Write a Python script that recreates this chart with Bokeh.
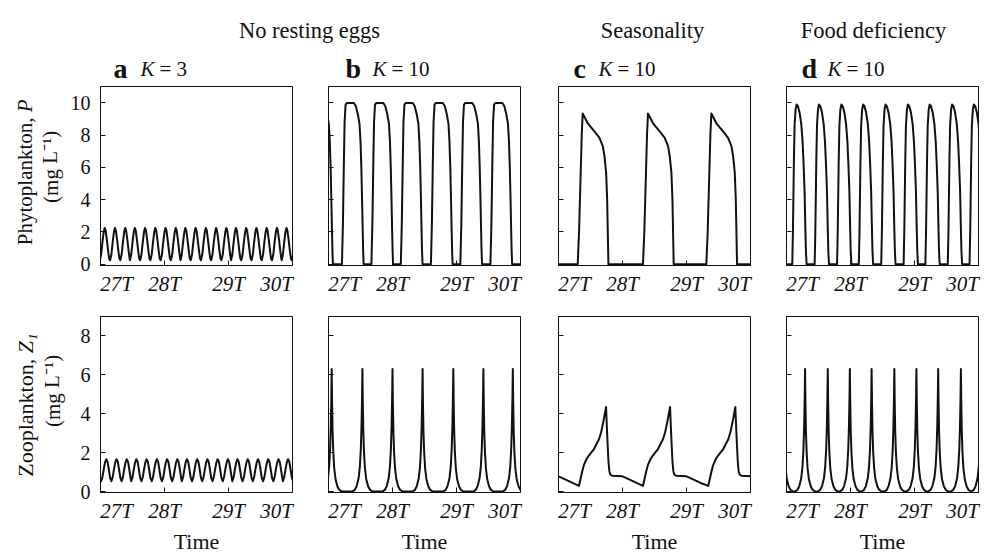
from bokeh.plotting import figure
from bokeh.models import FixedTicker, Range1d, LinearAxis
from bokeh.layouts import column, row
from bokeh.embed import file_html
from bokeh.resources import INLINE
from bokeh.core.properties import value

SERIF = "Liberation Serif"
INK = "#111111"

# ---------------- data ----------------
x_ticks = [27, 28, 29, 30]
x_tick_labels = ["27T", "28T", "29T", "30T"]
p_y_ticks = [0, 2, 4, 6, 8, 10]
z_y_ticks = [0, 2, 4, 6, 8]
p_y_range = (-0.08, 11.02)
z_y_range = (-0.03, 9.0)
headers = ["No resting eggs", "Seasonality", "Food deficiency"]
panel_letters = ["a", "b", "c", "d"]
panel_k_values = ["3", "10", "10", "10"]
x_axis_title = "Time"
p_title_main, p_title_sym = "Phytoplankton, ", "P"
z_title_main, z_title_sym = "Zooplankton, ", "Z\u2081"
unit_title = "(mg L\u207b\u00b9)"

# a : no resting eggs, K = 3  (regular small oscillations)
a_P_onsets = [26.99, 27.15, 27.31, 27.46, 27.62, 27.78, 27.94, 28.10, 28.25, 28.41,
              28.57, 28.73, 28.89, 29.04, 29.20, 29.36, 29.52, 29.68, 29.83, 29.99]
a_P_cycle_t = [0.0, 0.02, 0.04, 0.06, 0.075, 0.09, 0.11, 0.13, 0.145, 0.158]
a_P_cycle_v = [0.25, 0.6, 1.35, 2.0, 2.25, 2.1, 1.5, 0.8, 0.35, 0.25]
a_Z_onsets = [26.85, 27.01, 27.17, 27.33, 27.48, 27.64, 27.80, 27.96, 28.12, 28.27, 28.43,
              28.59, 28.75, 28.91, 29.06, 29.22, 29.38, 29.54, 29.70, 29.85, 30.01]
a_Z_cycle_t = [0.0, 0.02, 0.04, 0.06, 0.08, 0.10, 0.12, 0.14, 0.158]
a_Z_cycle_v = [0.55, 0.75, 1.15, 1.5, 1.68, 1.55, 1.15, 0.72, 0.55]

# b : no resting eggs, K = 10
b_P_onsets = [26.73, 27.21, 27.67, 28.13, 28.60, 29.06, 29.53]
b_P_pulse_t = [0.0, 0.0155, 0.031, 0.0415, 0.057, 0.078, 0.1865, 0.2176, 0.2487,
               0.2746, 0.2902, 0.3031, 0.3135, 0.3238, 0.3316, 0.3394]
b_P_pulse_v = [0.0, 2.5, 6.5, 8.8, 9.9, 10.0, 10.0, 9.8, 9.3, 8.7, 7.6, 6.0, 4.2, 2.2, 0.8, 0.0]
b_P_tail_t = [30.0]
b_P_tail_v = [0.0]
b_Z_peaks = [27.05, 27.53, 28.00, 28.47, 28.95, 29.42, 29.88]

# shared zooplankton spike shape (b and d)
z_spike_t = [-0.16, -0.12, -0.09, -0.06, -0.04, -0.025, -0.014, -0.006, 0.0,
             0.006, 0.014, 0.025, 0.04, 0.06, 0.09, 0.12, 0.16]
z_spike_v = [0.02, 0.1, 0.3, 0.7, 1.3, 2.2, 3.4, 4.8, 6.3,
             4.6, 3.1, 2.0, 1.2, 0.65, 0.28, 0.1, 0.02]

# c : seasonality, K = 10
c_P_onsets = [27.30, 28.32, 29.31]
c_P_pulse_t = [0.0, 0.021, 0.042, 0.063, 0.078, 0.157, 0.261, 0.34, 0.392, 0.418,
               0.444, 0.46, 0.47, 0.48]
c_P_pulse_v = [0.0, 2.0, 5.0, 8.0, 9.35, 8.74, 8.23, 7.83, 7.32, 6.71, 5.69, 4.07, 2.03, 0.0]
c_P_lead_t = [27.0]
c_P_lead_v = [0.0]
c_P_tail_t = [30.0]
c_P_tail_v = [0.0]
c_Z_onsets = [26.32, 27.32, 28.32, 29.34]
c_Z_cycle_t = [0.0, 0.02, 0.05, 0.078, 0.12, 0.157, 0.2, 0.235, 0.28, 0.313, 0.345,
               0.366, 0.395, 0.423, 0.44, 0.46, 0.475, 0.49, 0.52, 0.68, 0.8, 0.9, 1.0]
c_Z_cycle_v = [0.31, 0.6, 1.05, 1.39, 1.7, 1.88, 2.05, 2.2, 2.5, 2.7, 3.05,
               3.37, 3.85, 4.36, 3.0, 1.6, 1.05, 0.89, 0.83, 0.8, 0.62, 0.46, 0.31]

# d : food deficiency, K = 10
d_P_onsets = [27.09, 27.44, 27.79, 28.13, 28.48, 28.83, 29.17, 29.52, 29.86]
d_P_pulse_t = [0.0, 0.0104, 0.0156, 0.026, 0.0365, 0.052, 0.0677, 0.0885, 0.1146,
               0.1406, 0.1615, 0.1771, 0.1927, 0.2031, 0.2135, 0.224]
d_P_pulse_v = [0.0, 2.0, 3.5, 6.5, 8.6, 9.6, 9.9, 9.8, 9.4, 8.7, 7.6, 6.2, 4.5, 2.5, 0.8, 0.0]
d_P_lead_t = [27.0]
d_P_lead_v = [0.0]
d_Z_peaks = [26.945, 27.29, 27.645, 27.99, 28.33, 28.685, 29.03, 29.37, 29.725, 30.045]


# ---------------- helpers ----------------
def tile(onsets, shape_t, shape_v, cyclic=False, lead=((), ()), tail=((), ())):
    st = shape_t[:-1] if cyclic else shape_t
    sv = shape_v[:-1] if cyclic else shape_v
    ts, vs = list(lead[0]), list(lead[1])
    for o in onsets:
        ts += [o + d for d in st]
        vs += list(sv)
    ts += list(tail[0])
    vs += list(tail[1])
    return ts, vs


def strip(width, height):
    s = figure(width=width, height=height, x_range=Range1d(0, width), y_range=Range1d(0, height),
               output_backend="svg", toolbar_location=None, x_axis_location=None,
               y_axis_location=None, min_border=0)
    s.xgrid.visible = False
    s.ygrid.visible = False
    s.outline_line_color = None
    return s


def txt(s, x, y, texts, size, style="normal", align="left", baseline="alphabetic", angle=0.0):
    s.text(x=x, y=y, text=texts, text_font=value(SERIF), text_font_size=value(size),
           text_font_style=style, text_align=align, text_baseline=baseline, angle=angle,
           text_color=INK)


# tick-label anchors: first label starts at the left edge, last ends at the right edge
x_label_pos = [x_ticks[0] + 0.25, x_ticks[1], x_ticks[2], x_ticks[3] - 0.25]

FRAME_H = 182


def make_panel(width, lb, rb, tb, bb, yr, yticks, show_ylabels, with_title):
    p = figure(width=width, height=tb + FRAME_H + bb, x_range=Range1d(27, 30),
               y_range=Range1d(*yr), output_backend="svg", toolbar_location=None,
               min_border_left=lb, min_border_right=rb, min_border_top=tb, min_border_bottom=bb)
    p.xgrid.visible = False
    p.ygrid.visible = False
    p.outline_line_color = INK
    p.outline_line_width = 1
    p.border_fill_color = "white"
    xa = p.xaxis[0]
    xa.ticker = FixedTicker(ticks=x_ticks)
    xa.major_label_overrides = {t: "" for t in x_ticks}
    xa.major_label_text_font_size = "0px"
    xa.major_label_standoff = 0
    ya = p.yaxis[0]
    ya.ticker = FixedTicker(ticks=yticks)
    ya.major_label_text_font = SERIF
    ya.major_label_text_font_size = "20px"
    ya.major_label_text_color = INK
    ya.major_label_standoff = 10
    if not show_ylabels:
        ya.major_label_overrides = {t: "" for t in yticks}
        ya.major_label_text_font_size = "0px"
        ya.major_label_standoff = 0
    for ax in (xa, ya):
        ax.major_tick_in = 5
        ax.major_tick_out = 0
        ax.minor_tick_line_color = None
        ax.axis_line_color = INK
        ax.major_tick_line_color = INK
    la = LinearAxis(ticker=FixedTicker(ticks=x_label_pos),
                    major_label_overrides=dict(zip(x_label_pos, x_tick_labels)),
                    axis_line_color=None, major_tick_line_color=None,
                    minor_tick_line_color=None, major_tick_in=0, major_tick_out=0,
                    major_label_standoff=6, major_label_text_font=SERIF,
                    major_label_text_font_style="italic", major_label_text_font_size="21px",
                    major_label_text_color=INK)
    if with_title:
        la.axis_label = x_axis_title
        la.axis_label_text_font = SERIF
        la.axis_label_text_font_style = "normal"
        la.axis_label_text_font_size = "22px"
        la.axis_label_text_color = INK
        la.axis_label_standoff = 3
    p.add_layout(la, "below")
    return p


series = {
    "a": (tile(a_P_onsets, a_P_cycle_t, a_P_cycle_v, cyclic=True),
          tile(a_Z_onsets, a_Z_cycle_t, a_Z_cycle_v, cyclic=True)),
    "b": (tile(b_P_onsets, b_P_pulse_t, b_P_pulse_v, tail=(b_P_tail_t, b_P_tail_v)),
          tile(b_Z_peaks, z_spike_t, z_spike_v)),
    "c": (tile(c_P_onsets, c_P_pulse_t, c_P_pulse_v, lead=(c_P_lead_t, c_P_lead_v),
               tail=(c_P_tail_t, c_P_tail_v)),
          tile(c_Z_onsets, c_Z_cycle_t, c_Z_cycle_v, cyclic=True)),
    "d": (tile(d_P_onsets, d_P_pulse_t, d_P_pulse_v, lead=(d_P_lead_t, d_P_lead_v)),
          tile(d_Z_peaks, z_spike_t, z_spike_v)),
}

# geometry (screen pixels)
TOTAL_W = 986
HEAD_H = 84           # header strip: 0 .. 84
TOP_TB, TOP_BB = 2, 30  # top frames 86 .. 268, row ends at 298
BOT_TB, BOT_BB = 18, 58  # bottom frames 316 .. 498, row ends at 556
TOP_H = TOP_TB + FRAME_H + TOP_BB
BOT_H = BOT_TB + FRAME_H + BOT_BB
TOP_END = HEAD_H + TOP_H
BOT_END = TOP_END + BOT_H
STRIP_W = 66
cols = [(230, 34, 4), (228, 32, 4), (230, 34, 4), (232, 32, 8)]

top_figs, bot_figs = [], []
for i, key in enumerate(panel_letters):
    w, lb, rb = cols[i]
    (pt, pv), (zt, zv) = series[key]
    pf = make_panel(w, lb, rb, TOP_TB, TOP_BB, p_y_range, p_y_ticks, i == 0, False)
    pf.line(pt, pv, line_color=INK, line_width=2, line_join="round")
    zf = make_panel(w, lb, rb, BOT_TB, BOT_BB, z_y_range, z_y_ticks, i == 0, True)
    zf.line(zt, zv, line_color=INK, line_width=2, line_join="round")
    top_figs.append(pf)
    bot_figs.append(zf)

# header strip: column titles and panel labels
hdr = strip(TOTAL_W, HEAD_H)
txt(hdr, [309, 652, 873], [HEAD_H - 30] * 3, headers, "22.5px", align="center")
letter_x = [113, 345, 573, 801]
k_x = [140, 372, 598, 827]
lab_y = HEAD_H - 68
txt(hdr, letter_x, [lab_y] * 4, panel_letters, "28px", style="bold")
txt(hdr, k_x, [lab_y] * 4, ["K"] * 4, "21px", style="italic")
txt(hdr, [k + 19 for k in k_x], [lab_y] * 4, ["= " + k for k in panel_k_values], "21px")

# left strips: y-axis titles (vertical text)
ls_top = strip(STRIP_W, TOP_H)
p_split = TOP_END - 114.7
txt(ls_top, [24], [p_split], [p_title_main], "21px", align="right",
    baseline="middle", angle=1.5708)
txt(ls_top, [24], [p_split], [p_title_sym], "21px", style="italic",
    align="left", baseline="middle", angle=1.5708)
txt(ls_top, [50], [TOP_END - 180], [unit_title], "21px", align="center",
    baseline="middle", angle=1.5708)

ls_bot = strip(STRIP_W, BOT_H)
z_split = BOT_END - 352
txt(ls_bot, [25], [z_split], [z_title_main], "22px", align="right",
    baseline="middle", angle=1.5708)
txt(ls_bot, [25], [z_split], [z_title_sym], "22px", style="italic",
    align="left", baseline="middle", angle=1.5708)
txt(ls_bot, [52], [BOT_END - 407], [unit_title], "21px", align="center",
    baseline="middle", angle=1.5708)

layout = column(hdr,
                row(ls_top, *top_figs, spacing=0),
                row(ls_bot, *bot_figs, spacing=0),
                spacing=0)
open("out.html", "w").write(file_html(layout, INLINE))
